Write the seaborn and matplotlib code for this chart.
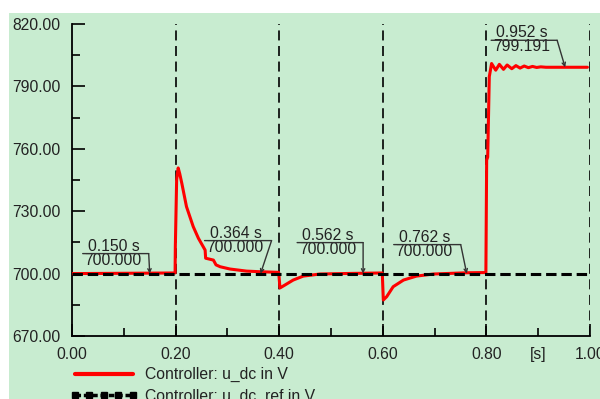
import numpy as np
import pandas as pd
import matplotlib
matplotlib.use('Agg')
import matplotlib.pyplot as plt
import seaborn as sns
from matplotlib.lines import Line2D
from matplotlib.patches import Rectangle
from matplotlib.transforms import offset_copy

# данные u_dc
t_udc = [0.0, 0.199, 0.1995, 0.202, 0.205, 0.208, 0.212, 0.221, 0.234, 0.244, 0.257, 0.258,
         0.273, 0.278, 0.286, 0.305, 0.337, 0.363, 0.399,
         0.4015, 0.411, 0.427, 0.4465, 0.479, 0.5425, 0.599,
         0.601, 0.6075, 0.620, 0.640, 0.665, 0.6975, 0.762, 0.799,
         0.8005, 0.8025, 0.8056, 0.810, 0.818, 0.825, 0.833, 0.840, 0.849, 0.857, 0.865,
         0.873, 0.881, 0.889, 0.897, 0.905, 0.915, 0.995]
u_dc = [700.0, 700.3, 713.0, 745.0, 750.8, 748.0, 743.4, 732.2, 722.6, 717.0, 711.3, 707.4,
        706.5, 704.2, 703.3, 702.2, 701.2, 700.9, 700.6,
        693.1, 694.5, 696.9, 698.8, 699.8, 700.1, 700.3,
        687.3, 688.9, 693.7, 696.9, 698.8, 699.8, 700.4, 700.5,
        754.6, 756.0, 794.7, 801.0, 797.8, 800.6, 798.2, 800.3, 798.5, 800.0, 798.8,
        799.8, 799.0, 799.6, 799.1, 799.4, 799.2, 799.2]

# u_dc_ref
t_ref = [0.0, 0.995]
u_ref = [700.0, 700.0]

# отметки (курсор)
ann_t = [0.150, 0.364, 0.562, 0.762, 0.952]
ann_v = [700.000, 700.000, 700.000, 700.000, 799.191]
# смещения подписи в пикселях: левый край, правый край, высота черты
ann_off = [(-67, -1, 20), (-56, 11, 33), (-66, 0, 31), (-73, -6, 29), (-74, -8, 27)]

vlines_t = [0.2, 0.4, 0.6, 0.8, 1.0]

sns.set_style('ticks')
plt.rcParams['font.family'] = ['Liberation Sans', 'DejaVu Sans']
plt.rcParams['lines.scale_dashes'] = False

green = '#C8ECD0'
txt_col = '#222222'
fs = 11.3

fig = plt.figure(figsize=(6, 3.99), dpi=100, facecolor='white')
fig.patches.append(Rectangle((9 / 600, 0), 1, (399 - 13) / 399, transform=fig.transFigure,
                             facecolor=green, edgecolor='none', zorder=-10))
ax = fig.add_axes([72 / 600, (399 - 336) / 399, (590 - 72) / 600, (336 - 24) / 399])
ax.set_facecolor(green)

df_udc = pd.DataFrame({'t': t_udc, 'u': u_dc})
df_ref = pd.DataFrame({'t': t_ref, 'u': u_ref})

sns.lineplot(data=df_udc, x='t', y='u', color='#FF0000', lw=2.2, estimator=None, sort=False,
             ax=ax, zorder=3)
sns.lineplot(data=df_ref, x='t', y='u', color='black', lw=2.2, estimator=None, sort=False,
             ax=ax, zorder=4, dashes=False)
ax.lines[-1].set_dashes([7.5, 3.5])

for xv in vlines_t:
    ax.axvline(xv, color='black', lw=1.2, dashes=(7.2, 4.0), zorder=2)

ax.set_xlim(0, 1.0)
ax.set_ylim(670, 820)
ax.set_xlabel('')
ax.set_ylabel('')

ax.set_xticks([0.0, 0.2, 0.4, 0.6, 0.8, 1.0])
ax.set_xticklabels(['0.00', '0.20', '0.40', '0.60', '0.80', '1.00'])
ax.set_xticks([0.1, 0.3, 0.5, 0.7, 0.9], minor=True)
ax.set_yticks([670, 700, 730, 760, 790, 820])
ax.set_yticklabels(['670.00', '700.00', '730.00', '760.00', '790.00', '820.00'])
ax.set_yticks([685, 715, 745, 775, 805], minor=True)
ax.tick_params(which='major', direction='in', length=9, width=1.2, color='black',
               labelsize=fs, labelcolor=txt_col)
ax.tick_params(which='minor', direction='in', length=6, width=1.2, color='black')
ax.tick_params(axis='y', pad=8)
ax.tick_params(axis='x', pad=8)
ax.annotate('[s]', xy=(0.9, 0), xycoords=ax.get_xaxis_transform(), xytext=(0, -11),
            textcoords='offset pixels', ha='center', va='top', fontsize=fs, color=txt_col)

for s in ['top', 'right']:
    ax.spines[s].set_visible(False)
for s in ['left', 'bottom']:
    ax.spines[s].set_color('black')
    ax.spines[s].set_linewidth(1.3)

for t, v, (dl, dr, dy) in zip(ann_t, ann_v, ann_off):
    ax.annotate(f'{t:.3f} s', xy=(t, v), xytext=(dl + 5, dy), textcoords='offset pixels',
                ha='left', va='bottom', fontsize=fs, color=txt_col, zorder=6)
    ax.annotate(f'{v:.3f}', xy=(t, v), xytext=(dl + 2, dy + 1), textcoords='offset pixels',
                ha='left', va='top', fontsize=fs, color=txt_col, zorder=6)
    tl = offset_copy(ax.transData, fig=fig, x=dl, y=dy, units='dots')
    tr = offset_copy(ax.transData, fig=fig, x=dr, y=dy, units='dots')
    ax.annotate('', xy=(t, v), xycoords=tl, xytext=(t, v), textcoords=tr,
                arrowprops=dict(arrowstyle='-', color='#333333', lw=1.0,
                                shrinkA=0, shrinkB=0), zorder=6)
    ax.annotate('', xy=(t, v), xytext=(dr, dy), textcoords='offset pixels',
                arrowprops=dict(arrowstyle='->', color='#333333', lw=1.0, mutation_scale=6,
                                shrinkA=0, shrinkB=0), zorder=6)

handles = [Line2D([], [], color='#FF0000', lw=3),
           Line2D([], [], color='black', lw=2.5, dashes=(4, 2), marker='s', markersize=4)]
labels = ['Controller: u_dc in V', 'Controller: u_dc_ref in V']
fig.legend(handles, labels, loc='upper left', bbox_to_anchor=(70 / 600, (399 - 367) / 399),
           frameon=False, fontsize=fs, handlelength=4.3, handletextpad=0.5, numpoints=5,
           borderpad=0, borderaxespad=0, labelspacing=0.42, labelcolor=txt_col)

fig.savefig('out.png', dpi=100, facecolor='white')
